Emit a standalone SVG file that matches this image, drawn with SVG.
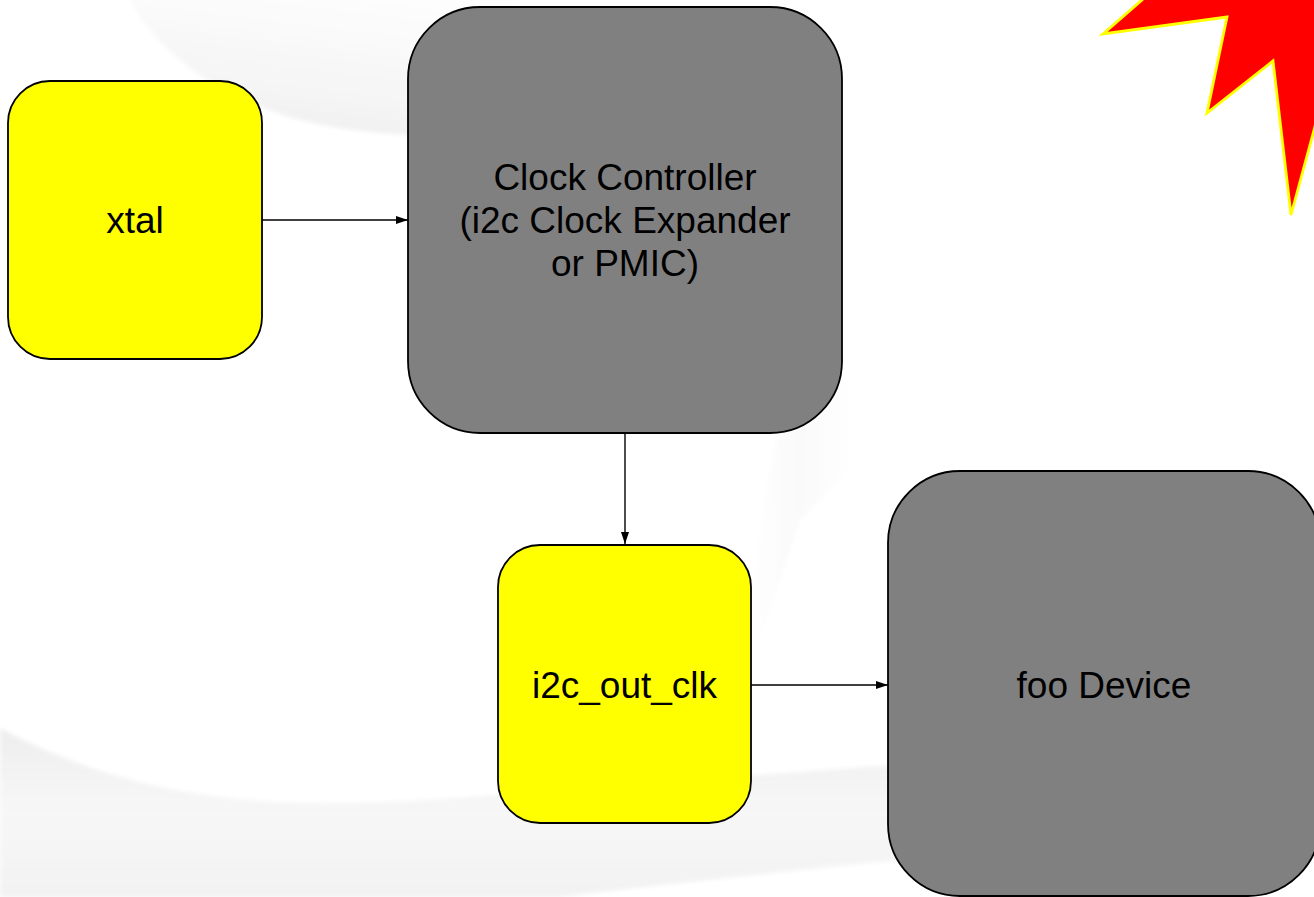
<svg xmlns="http://www.w3.org/2000/svg" width="1314" height="897" viewBox="0 0 1314 897">
<style>
.node{stroke:#000;stroke-width:1.8}
.y{fill:#ffff00}
.g{fill:#808080}
.lbl{font-family:"Liberation Sans",Arial,sans-serif;font-size:37px;fill:#000;text-anchor:middle}
.edge{stroke:#000;stroke-width:1.4;fill:none}
</style>
<defs>
<marker id="arr" viewBox="0 0 12 8" refX="12" refY="4" markerWidth="12" markerHeight="8" markerUnits="userSpaceOnUse" orient="auto">
<path d="M0,0 L12,4 L0,8 Z" fill="#000"/>
</marker>
<linearGradient id="bgTop" x1="0" y1="1" x2="0.6" y2="0">
<stop offset="0" stop-color="#ededed"/>
<stop offset="0.35" stop-color="#f5f5f5"/>
<stop offset="1" stop-color="#ffffff"/>
</linearGradient>
<linearGradient id="bgBot" x1="0" y1="0" x2="0" y2="1">
<stop offset="0" stop-color="#eeeeee"/>
<stop offset="0.5" stop-color="#f7f7f7"/>
<stop offset="1" stop-color="#f2f2f2"/>
</linearGradient>
<linearGradient id="bgSide" x1="0" y1="0" x2="1" y2="0">
<stop offset="0" stop-color="#ffffff"/>
<stop offset="0.5" stop-color="#f7f7f7"/>
<stop offset="1" stop-color="#ffffff"/>
</linearGradient>
<filter id="soft" x="-5%" y="-5%" width="110%" height="110%"><feGaussianBlur stdDeviation="2"/></filter>
</defs>
<rect width="1314" height="897" fill="#fff"/>
<g id="background" filter="url(#soft)">
<path d="M128,-5 C150,45 210,95 300,120 C340,130 380,134 430,136 L800,130 L820,-5 Z" fill="url(#bgTop)"/>
<path d="M0,728 C60,760 140,792 260,801 C380,808 480,795 560,790 C700,780 820,770 900,765 L900,860 C820,868 700,880 560,897 L0,897 Z" fill="url(#bgBot)"/>
<path d="M790,380 L860,380 L850,470 L800,520 L760,640 L740,640 L770,470 Z" fill="url(#bgSide)" opacity="0.7"/>
</g>
<g id="star">
<path d="M1160,-18 L1142,0 L1103,34 L1227,17 L1207,113 L1273,61 L1291,215 L1314,130 L1330,70 L1330,-18 Z" fill="#ff0000" stroke="#ffff00" stroke-width="2.8" stroke-linejoin="miter"/>
</g>
<g id="connectors">
<path class="edge" d="M262,220 L408,220" marker-end="url(#arr)"/>
<path class="edge" d="M625,433 L625,544" marker-end="url(#arr)"/>
<path class="edge" d="M751,685 L888,685" marker-end="url(#arr)"/>
</g>
<g id="node-xtal">
<rect class="node y" x="8" y="81" width="254" height="278" rx="42" ry="42"/>
<text class="lbl" x="135" y="233">xtal</text>
</g>
<g id="node-clock-controller">
<rect class="node g" x="408" y="7" width="434" height="426" rx="72" ry="72"/>
<text class="lbl" x="625" y="190">Clock Controller</text>
<text class="lbl" x="625" y="233">(i2c Clock Expander</text>
<text class="lbl" x="625" y="276">or PMIC)</text>
</g>
<g id="node-i2c-out-clk">
<rect class="node y" x="498" y="545" width="253" height="278" rx="42" ry="42"/>
<text class="lbl" x="624.5" y="698">i2c_out_clk</text>
</g>
<g id="node-foo-device">
<rect class="node g" x="888" y="471" width="432" height="425" rx="72" ry="72"/>
<text class="lbl" x="1104" y="698">foo Device</text>
</g>
</svg>
